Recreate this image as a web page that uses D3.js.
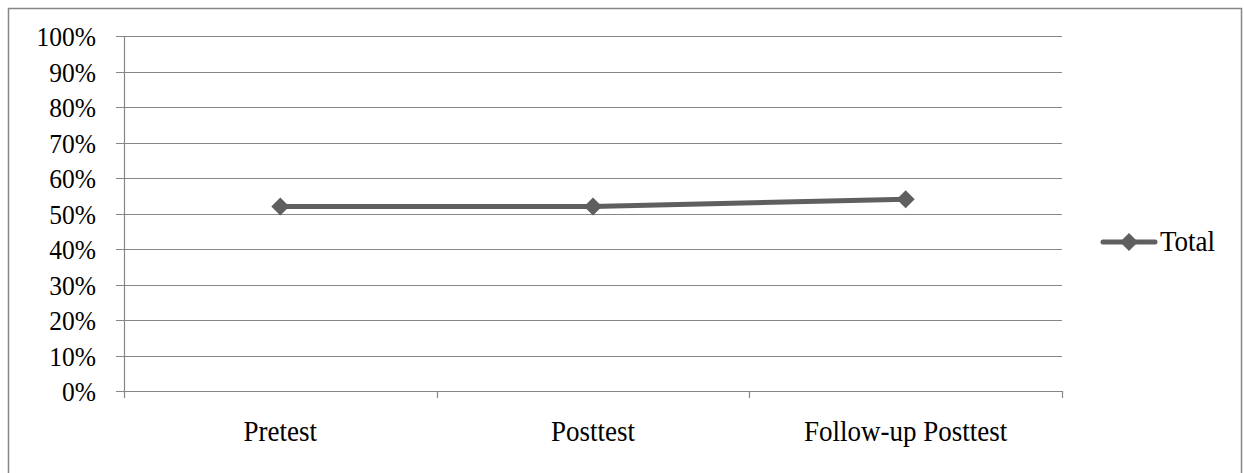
<!DOCTYPE html>
<html><head><meta charset="utf-8">
<script src="https://d3js.org/d3.v7.min.js"></script>
<style>body{margin:0;background:#fff}svg{display:block}</style>
</head><body>
<script>
const categories = ["Pretest", "Posttest", "Follow-up Posttest"];
const totalValues = [0.52, 0.52, 0.54];
const yTicks = [0,0.1,0.2,0.3,0.4,0.5,0.6,0.7,0.8,0.9,1.0];
const seriesName = "Total";

(function(){
const W = 1244, H = 473;
const svg = d3.select("body").append("svg").attr("width", W).attr("height", H);
svg.append("rect").attr("x", 8.5).attr("y", 8.5).attr("width", 1233).attr("height", 480)
  .attr("fill", "#fff").attr("stroke", "#868686").attr("stroke-width", 1.5);

const pL = 124, pR = 1062, pT = 36, pB = 391;
const x = d3.scaleBand().domain(categories).range([pL, pR]);
const y = d3.scaleLinear().domain([0, 1]).range([pB, pT]);
const font = "'Liberation Serif', 'Times New Roman', serif";
const sy = 1.08;
const grid = "#868686";

svg.append("g").selectAll("line").data(yTicks).join("line")
  .attr("x1", pL - 8).attr("x2", pR)
  .attr("y1", d => Math.round(y(d)) + 0.5).attr("y2", d => Math.round(y(d)) + 0.5)
  .attr("stroke", grid).attr("stroke-width", 1.2);

svg.append("line").attr("x1", pL + 0.5).attr("x2", pL + 0.5).attr("y1", pT).attr("y2", pB + 7)
  .attr("stroke", grid).attr("stroke-width", 1.2);

const bounds = categories.map(c => x(c)).concat([x(categories[categories.length-1]) + x.bandwidth()]);
svg.append("g").selectAll("line").data(bounds.slice(1)).join("line")
  .attr("x1", d => Math.round(d) + 0.5).attr("x2", d => Math.round(d) + 0.5)
  .attr("y1", pB).attr("y2", pB + 7).attr("stroke", grid).attr("stroke-width", 1.2);

const txt = (g, tx, ty, fs) => g.attr("transform", `translate(${tx},${ty}) scale(1,${sy})`)
  .attr("font-family", font).attr("font-size", fs).attr("fill", "#000");

svg.append("g").selectAll("text").data(yTicks).join("text")
  .each(function(d){ txt(d3.select(this), 96, y(d) + 10, 25.5); })
  .attr("text-anchor", "end")
  .text(d => Math.round(d * 100) + "%");

svg.append("g").selectAll("text").data(categories).join("text")
  .each(function(d){ txt(d3.select(this), x(d) + x.bandwidth() / 2, 441, 27); })
  .attr("text-anchor", "middle")
  .text(d => d);

const col = "#5f5f5f";
const line = d3.line().x((d, i) => x(categories[i]) + x.bandwidth() / 2).y(d => y(d));
svg.append("path").datum(totalValues).attr("d", line).attr("fill", "none")
  .attr("stroke", col).attr("stroke-width", 5).attr("stroke-linejoin", "round");

const diamond = (cx, cy, r) => `M${cx},${cy - r}L${cx + r},${cy}L${cx},${cy + r}L${cx - r},${cy}Z`;
svg.append("g").selectAll("path").data(totalValues).join("path")
  .attr("d", (d, i) => diamond(x(categories[i]) + x.bandwidth() / 2, y(d), 9))
  .attr("fill", col);

const ly = 242;
svg.append("line").attr("x1", 1103).attr("x2", 1155).attr("y1", ly).attr("y2", ly)
  .attr("stroke", col).attr("stroke-width", 5).attr("stroke-linecap", "round");
svg.append("path").attr("d", diamond(1129, ly, 9)).attr("fill", col);
txt(svg.append("text"), 1160, ly + 9, 27).text(seriesName);
})();
</script>
</body></html>
